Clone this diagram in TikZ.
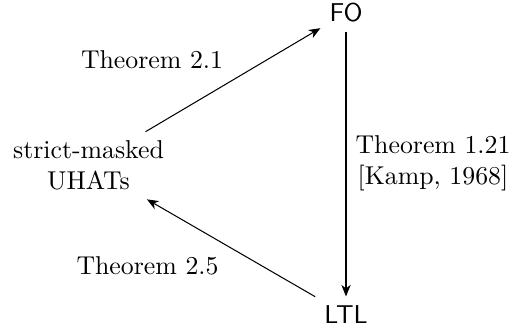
\documentclass[tikz,border=0pt]{standalone}
\usetikzlibrary{arrows.meta}
\begin{document}
\begin{tikzpicture}[x=0.3876pt,y=-0.3876pt,
  arr/.style={-{Stealth[length=4.5pt,width=3.6pt,inset=1.4pt]},line width=0.4pt},
  lbl/.style={align=center,inner sep=1pt},
  sfnode/.style={font=\sffamily}]
\useasboundingbox (0,0) rectangle (512,329);
\node[sfnode] (FO) at (346,13) {FO};
\node[sfnode] (LTL) at (346,314.5) {LTL};
\node[align=center] (S) at (88.5,165.5) {strict-masked\\UHATs};
\draw[arr] (S) -- (FO);
\draw[arr] (FO) -- (LTL);
\draw[arr] (LTL) -- (S);
\node[lbl] (t21) at (152,60) {Theorem 2.1};
\node[lbl] (t25) at (147.5,266) {Theorem 2.5};
\node[lbl] (t121) at (433,163) {Theorem 1.21\\{[Kamp, 1968]}};
\end{tikzpicture}
\end{document}
